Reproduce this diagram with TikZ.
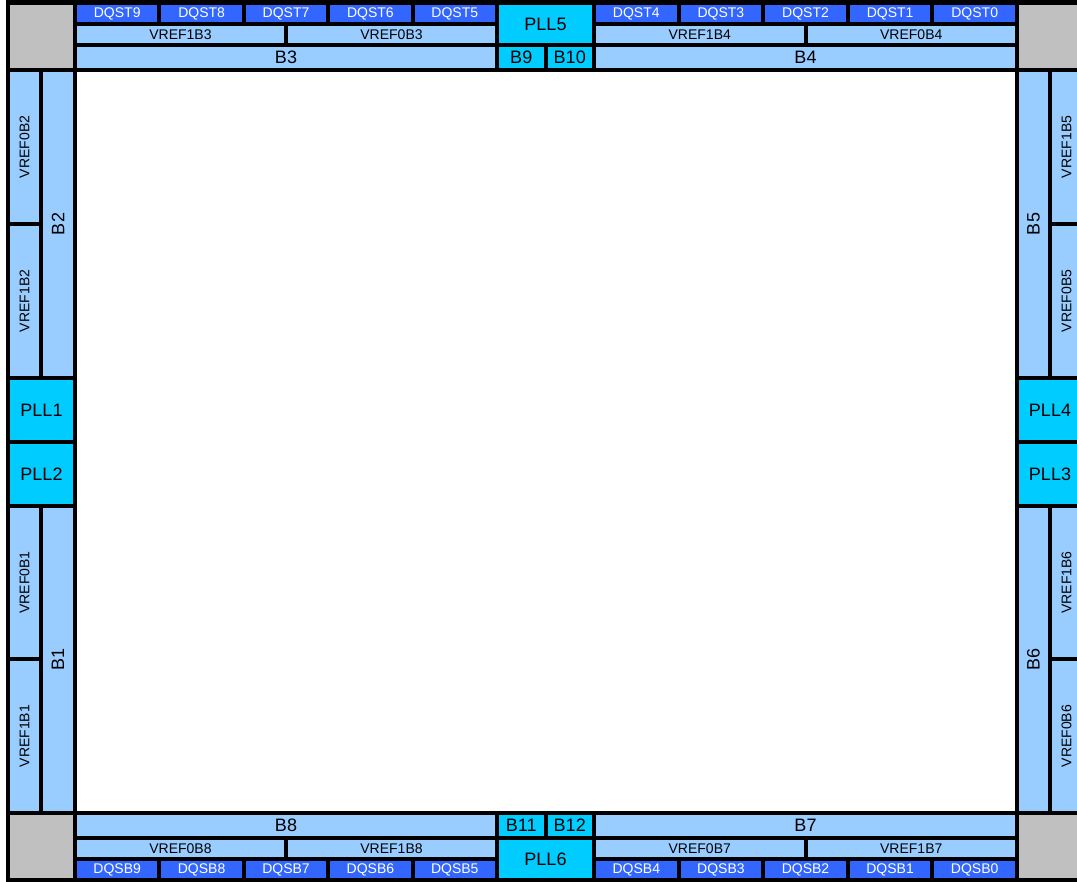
\documentclass[tikz,border=0pt]{standalone}
\usepackage{fontspec}
\setmainfont{Liberation Sans}
\definecolor{dqsblue}{HTML}{3366FF}
\definecolor{lightblue}{HTML}{99CCFF}
\definecolor{pllcyan}{HTML}{00CCFF}
\definecolor{cornergrey}{HTML}{C0C0C0}
\begin{document}
\begin{tikzpicture}[x=1pt, y=-1pt,
  sz/.style 2 args={minimum width=#1, minimum height=#2},
  cell/.style={inner sep=0pt, outer sep=0pt, anchor=center},
  dqs/.style={cell, fill=dqsblue, text=white, font=\fontsize{14}{14}\selectfont},
  vref/.style={cell, fill=lightblue, font=\fontsize{14}{14}\selectfont},
  bank/.style={cell, fill=lightblue, font=\fontsize{18}{18}\selectfont},
  pll/.style={cell, fill=pllcyan, font=\fontsize{18}{18}\selectfont},
  corner/.style={cell, fill=cornergrey},
  core/.style={cell, fill=white}]
  \useasboundingbox (0,0) rectangle (1077,882);
  % black frame behind all cells
  \fill[black] (6,0) rectangle (1077,882);
  \node[core, sz={938}{739}] (core) at (546,441.5) {};
  % corners
  \node[corner, sz={63}{63}] (cornertl) at (41.5,36.5) {};
  \node[corner, sz={62}{63}] (cornertr) at (1050,36.5) {};
  \node[corner, sz={63}{63}] (cornerbl) at (41.5,846.5) {};
  \node[corner, sz={62}{63}] (cornerbr) at (1050,846.5) {};
  % top side
  \node[dqs, sz={80.4}{17}] (dqst9) at (117.2,13.5) {DQST9};
  \node[dqs, sz={80.4}{17}] (dqst8) at (201.6,13.5) {DQST8};
  \node[dqs, sz={80.4}{17}] (dqst7) at (286,13.5) {DQST7};
  \node[dqs, sz={80.4}{17}] (dqst6) at (370.4,13.5) {DQST6};
  \node[dqs, sz={80.4}{17}] (dqst5) at (454.8,13.5) {DQST5};
  \node[dqs, sz={80.6}{17}] (dqst4) at (636.3,13.5) {DQST4};
  \node[dqs, sz={80.6}{17}] (dqst3) at (720.9,13.5) {DQST3};
  \node[dqs, sz={80.6}{17}] (dqst2) at (805.5,13.5) {DQST2};
  \node[dqs, sz={80.6}{17}] (dqst1) at (890.1,13.5) {DQST1};
  \node[dqs, sz={80.6}{17}] (dqst0) at (974.7,13.5) {DQST0};
  \node[vref, sz={207}{17}] (vref1b3) at (180.5,34.5) {VREF1B3};
  \node[vref, sz={207}{17}] (vref0b3) at (391.5,34.5) {VREF0B3};
  \node[vref, sz={207.5}{17}] (vref1b4) at (699.75,34.5) {VREF1B4};
  \node[vref, sz={207.5}{17}] (vref0b4) at (911.25,34.5) {VREF0B4};
  \node[bank, sz={418}{21}] (b3) at (286,57.5) {B3};
  \node[bank, sz={419}{21}] (b4) at (805.5,57.5) {B4};
  \node[pll, sz={93}{38}] (pll5) at (545.5,24) {PLL5};
  \node[pll, sz={44.5}{21}] (b9) at (521.25,57.5) {B9};
  \node[pll, sz={44.5}{21}] (b10) at (569.75,57.5) {B10};
  % bottom side
  \node[bank, sz={418}{21}] (b8) at (286,825.5) {B8};
  \node[bank, sz={419}{21}] (b7) at (805.5,825.5) {B7};
  \node[pll, sz={44.5}{21}] (b11) at (521.25,825.5) {B11};
  \node[pll, sz={44.5}{21}] (b12) at (569.75,825.5) {B12};
  \node[vref, sz={207}{17}] (vref0b8) at (180.5,848.5) {VREF0B8};
  \node[vref, sz={207}{17}] (vref1b8) at (391.5,848.5) {VREF1B8};
  \node[vref, sz={207.5}{17}] (vref0b7) at (699.75,848.5) {VREF0B7};
  \node[vref, sz={207.5}{17}] (vref1b7) at (911.25,848.5) {VREF1B7};
  \node[pll, sz={93}{38}] (pll6) at (545.5,859) {PLL6};
  \node[dqs, sz={80.4}{17}] (dqsb9) at (117.2,869.5) {DQSB9};
  \node[dqs, sz={80.4}{17}] (dqsb8) at (201.6,869.5) {DQSB8};
  \node[dqs, sz={80.4}{17}] (dqsb7) at (286,869.5) {DQSB7};
  \node[dqs, sz={80.4}{17}] (dqsb6) at (370.4,869.5) {DQSB6};
  \node[dqs, sz={80.4}{17}] (dqsb5) at (454.8,869.5) {DQSB5};
  \node[dqs, sz={80.6}{17}] (dqsb4) at (636.3,869.5) {DQSB4};
  \node[dqs, sz={80.6}{17}] (dqsb3) at (720.9,869.5) {DQSB3};
  \node[dqs, sz={80.6}{17}] (dqsb2) at (805.5,869.5) {DQSB2};
  \node[dqs, sz={80.6}{17}] (dqsb1) at (890.1,869.5) {DQSB1};
  \node[dqs, sz={80.6}{17}] (dqsb0) at (974.7,869.5) {DQSB0};
  % left side
  \node[vref, sz={150}{29}, rotate=90] (vref0b2) at (24.5,147) {VREF0B2};
  \node[vref, sz={150}{29}, rotate=90] (vref1b2) at (24.5,301) {VREF1B2};
  \node[bank, sz={304}{30}, rotate=90] (b2) at (58,224) {B2};
  \node[pll, sz={63}{60}] (pll1) at (41.5,410) {PLL1};
  \node[pll, sz={63}{60}] (pll2) at (41.5,474) {PLL2};
  \node[vref, sz={149}{29}, rotate=90] (vref0b1) at (24.5,582.5) {VREF0B1};
  \node[vref, sz={150}{29}, rotate=90] (vref1b1) at (24.5,736) {VREF1B1};
  \node[bank, sz={303}{30}, rotate=90] (b1) at (58,659.5) {B1};
  % right side
  \node[bank, sz={304}{29}, rotate=90] (b5) at (1033.5,224) {B5};
  \node[vref, sz={150}{29}, rotate=90] (vref1b5) at (1066.5,147) {VREF1B5};
  \node[vref, sz={150}{29}, rotate=90] (vref0b5) at (1066.5,301) {VREF0B5};
  \node[pll, sz={62}{60}] (pll4) at (1050,410) {PLL4};
  \node[pll, sz={62}{60}] (pll3) at (1050,474) {PLL3};
  \node[bank, sz={303}{29}, rotate=90] (b6) at (1033.5,659.5) {B6};
  \node[vref, sz={149}{29}, rotate=90] (vref1b6) at (1066.5,582.5) {VREF1B6};
  \node[vref, sz={150}{29}, rotate=90] (vref0b6) at (1066.5,736) {VREF0B6};
\end{tikzpicture}
\end{document}
